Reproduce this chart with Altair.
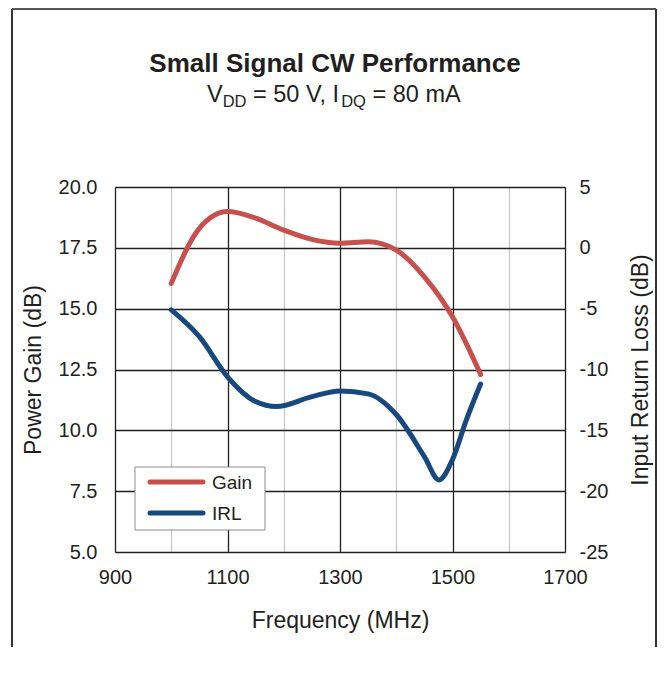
import altair as alt
import pandas as pd

# ---- data ----
freq_gain = [1000, 1050, 1100, 1150, 1200, 1250, 1300, 1350, 1400, 1450, 1500, 1550]
gain_db = [16.04, 18.30, 18.99, 18.72, 18.23, 17.85, 17.69, 17.75, 17.41, 16.31, 14.67, 12.30]

freq_irl = [1000, 1050, 1100, 1150, 1187, 1250, 1300, 1350, 1400, 1450, 1476, 1500, 1525, 1550]
irl_db = [-5.1, -7.3, -10.6, -12.64, -13.05, -12.23, -11.76, -12.0, -13.7, -17.16, -19.08, -17.4, -14.1, -11.19]

x_ticks = [900, 1000, 1100, 1200, 1300, 1400, 1500, 1600, 1700]
gain_ticks = [5.0, 7.5, 10.0, 12.5, 15.0, 17.5, 20.0]
irl_ticks = [-25, -20, -15, -10, -5, 0, 5]
series_names = ["Gain", "IRL"]

FONT = "Liberation Sans"
TXT = "#231F20"
RED = "#C8504C"
BLUE = "#17497F"
DARK = "#231F20"
LIGHT = "#C8C8C8"

df_gain = pd.DataFrame({"freq": freq_gain, "value": gain_db})
df_irl = pd.DataFrame({"freq": freq_irl, "value": irl_db})
one = pd.DataFrame({"k": [0]})

x_enc = alt.X(
    "freq:Q",
    scale=alt.Scale(domain=[900, 1700], nice=False, zero=False),
    axis=alt.Axis(
        values=x_ticks,
        labelExpr="datum.value % 200 == 100 ? datum.label : ''",
        format="d",
        labelFlush=False,
        grid=True,
        gridColor={"condition": {"test": "datum.value % 200 == 100", "value": DARK}, "value": LIGHT},
        gridWidth=1.3,
        domain=False,
        ticks=False,
        labelFontSize=20,
        labelPadding=15,
        labelColor=TXT,
        labelFont=FONT,
        title="Frequency (MHz)",
        titleFontSize=23,
        titleFontWeight="normal",
        titleFont=FONT,
        titleColor=TXT,
        titlePadding=22,
    ),
)

gain_line = alt.Chart(df_gain).mark_line(
    color=RED, strokeWidth=5, strokeCap="round", interpolate="monotone"
).encode(
    x=x_enc,
    y=alt.Y(
        "value:Q",
        scale=alt.Scale(domain=[5, 20], nice=False, zero=False),
        axis=alt.Axis(
            values=gain_ticks,
            format=".1f",
            orient="left",
            grid=True,
            gridColor=DARK,
            gridWidth=1.3,
            domain=False,
            ticks=False,
            labelFontSize=20,
            labelPadding=18,
            labelColor=TXT,
            labelFont=FONT,
            title="Power Gain (dB)",
            titleFontSize=23,
            titleFontWeight="normal",
            titleFont=FONT,
            titleColor=TXT,
            titlePadding=13,
        ),
    ),
)

irl_line = alt.Chart(df_irl).mark_line(
    color=BLUE, strokeWidth=5, strokeCap="round", interpolate="monotone"
).encode(
    x=alt.X("freq:Q"),
    y=alt.Y(
        "value:Q",
        scale=alt.Scale(domain=[-25, 5], nice=False, zero=False),
        axis=alt.Axis(
            values=irl_ticks,
            labelExpr="datum.value < 0 ? '-' + abs(datum.value) : '' + datum.value",
            orient="right",
            grid=False,
            domain=False,
            ticks=False,
            labelFontSize=20,
            labelPadding=14,
            labelColor=TXT,
            labelFont=FONT,
            title="Input Return Loss (dB)",
            titleFontSize=23,
            titleFontWeight="normal",
            titleFont=FONT,
            titleColor=TXT,
            titleAngle=270,
            titlePadding=45,
        ),
    ),
)


def txt(s, x, y, size, weight="normal", align="left", baseline="alphabetic"):
    return alt.Chart(one).mark_text(
        text=s, font=FONT, fontSize=size, fontWeight=weight, align=align,
        baseline=baseline, color=TXT,
    ).encode(x=alt.value(x), y=alt.value(y))


def rule(x, y, x2=None, y2=None, color=DARK, width=2.0, cap="butt"):
    enc = {"x": alt.value(x), "y": alt.value(y)}
    if x2 is not None:
        enc["x2"] = alt.value(x2)
    if y2 is not None:
        enc["y2"] = alt.value(y2)
    return alt.Chart(one).mark_rule(color=color, strokeWidth=width, strokeCap=cap).encode(**enc)


# titles (positions relative to plot origin)
title = txt("Small Signal CW Performance", 220, -115, 26, weight="bold", align="center")
sub = [
    txt("V", 92.0, -85, 23.5),
    txt("DD", 107.7, -80, 16.5),
    txt("= 50 V, I", 138.0, -85, 23.5),
    txt("DQ", 226.2, -80, 16.5),
    txt("= 80 mA", 257.5, -85, 23.5),
]

# outer frame (left, top, right)
frame = [
    rule(-103, -178, y2=460, color="#333333", width=2),
    rule(-103, -178, x2=541, color="#555555", width=2),
    rule(541, -178, y2=460, color="#333333", width=2),
]

# legend box
legend_box = alt.Chart(one).mark_rect(fill="white", stroke="#8C8C8C", strokeWidth=1).encode(
    x=alt.value(20), x2=alt.value(150), y=alt.value(280), y2=alt.value(343)
)
legend_items = [
    rule(35, 295, x2=88, color=RED, width=5, cap="round"),
    txt(series_names[0], 97, 296, 19, baseline="middle"),
    rule(35, 326, x2=88, color=BLUE, width=5, cap="round"),
    txt(series_names[1], 97, 327, 19, baseline="middle"),
]

lines = alt.layer(gain_line, irl_line).resolve_scale(y="independent")

chart = alt.layer(
    lines, legend_box, *legend_items, title, *sub, *frame
).properties(
    width=450, height=365, padding={"left": 3, "top": 0, "right": 0, "bottom": 0}
).configure_view(
    stroke="black", strokeWidth=2
).configure(background="white")

chart.save("out.html", embed_options={"renderer": "svg", "actions": False})
